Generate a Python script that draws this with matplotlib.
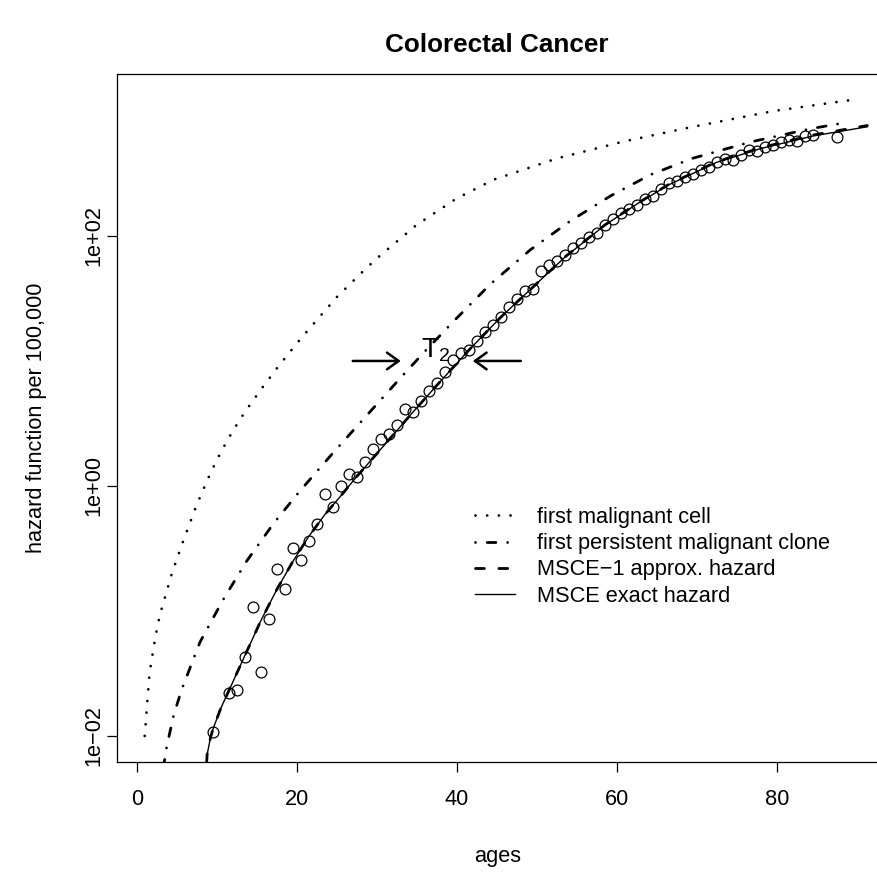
import matplotlib
matplotlib.use("Agg")
import matplotlib.pyplot as plt
from matplotlib.ticker import NullLocator

# observed incidence (circles)
ages_obs = [9.5, 11.5, 12.5, 13.5, 14.5, 15.5, 16.5, 17.5, 18.5, 19.5, 20.5, 21.5,
            22.5, 23.5, 24.5, 25.5, 26.5, 27.5, 28.5, 29.5, 30.5, 31.5, 32.5, 33.5,
            34.5, 35.5, 36.5, 37.5, 38.5, 39.5, 40.5, 41.5, 42.5, 43.5, 44.5, 45.5,
            46.5, 47.5, 48.5, 49.5, 50.5, 51.5, 52.5, 53.5, 54.5, 55.5, 56.5, 57.5,
            58.5, 59.5, 60.5, 61.5, 62.5, 63.5, 64.5, 65.5, 66.5, 67.5, 68.5, 69.5,
            70.5, 71.5, 72.5, 73.5, 74.5, 75.5, 76.5, 77.5, 78.5, 79.5, 80.5, 81.5,
            82.5, 83.5, 84.5, 87.5]
hazard_obs = [0.0108, 0.0222, 0.0233, 0.0432, 0.108, 0.0325, 0.0857, 0.218, 0.151, 0.316,
              0.256, 0.366, 0.497, 0.863, 0.684, 1.00, 1.25, 1.19, 1.56, 1.99, 2.39, 2.61,
              3.10, 4.10, 3.91, 4.82, 5.75, 6.62, 8.17, 10.1, 11.5, 12.2, 14.4, 16.9, 19.5,
              22.3, 26.9, 31.1, 36.1, 37.4, 52.1, 58.2, 63.5, 70.0, 80.2, 88.5, 98.9, 106,
              123, 136, 154, 163, 178, 196, 209, 236, 267, 277, 294, 315, 339, 357, 389,
              416, 406, 442, 488, 475, 512, 538, 565, 586, 579, 631, 647, 624]

# first malignant cell
age_cell = [1.0, 1.6, 2.3, 2.9, 4.4, 5.7, 7.5, 9.2, 10.5, 12.0, 13.5, 15.5, 17.5, 20.0,
            22.0, 25.0, 28.0, 30.0, 35.0, 40.0, 44.6, 52.5, 60.8, 69.2, 79.6, 89.3]
haz_cell = [0.0100, 0.0316, 0.0603, 0.0933, 0.200, 0.347, 0.708, 1.26, 1.86, 2.75, 3.89,
            5.89, 8.71, 13.8, 19.5, 32.4, 50.1, 66.1, 123, 200, 282, 417, 569, 741, 1000, 1225]

# first persistent malignant clone
age_clone = [3.1, 3.75, 4.6, 5.6, 7.9, 10.8, 13.75, 17.1, 20.4, 24.6, 28.75, 32.9, 36.2,
             39.8, 44.2, 49.2, 54.2, 59.2, 64.2, 69.4, 76.7, 84.2, 88.5]
haz_clone = [0.00447, 0.0082, 0.0145, 0.0233, 0.0562, 0.123, 0.251, 0.501, 0.912, 1.86,
             3.67, 7.24, 12.3, 21.4, 41.2, 77.6, 132, 209, 309, 417, 565, 721, 805]

# MSCE exact / MSCE-1 approx
age_msce = [8.55, 8.8, 9.2, 9.5, 10.5, 11.5, 13.5, 15.5, 17.5, 19.5, 21.5, 23.5, 25.5,
            27.5, 31.0, 34.5, 38.0, 41.5, 45.5, 49.5, 53.5, 58.5, 62.5, 66.5, 72.5, 78.0,
            84.5, 91.3]
haz_exact = [0.00398, 0.00708, 0.00955, 0.0112, 0.0166, 0.0229, 0.0437, 0.0832, 0.148,
             0.248, 0.394, 0.589, 0.832, 1.19, 2.14, 3.89, 6.92, 12.2, 22.4, 38.9, 67.6,
             122, 180, 257, 389, 501, 631, 748]
haz_approx = [0.00398, 0.00708, 0.00955, 0.0112, 0.0166, 0.0229, 0.0437, 0.0832, 0.148,
              0.248, 0.394, 0.589, 0.832, 1.19, 2.14, 3.89, 6.92, 12.2, 22.4, 38.9, 67.8,
              122.5, 181, 259, 393, 508, 642, 765]

labels = ["first malignant cell", "first persistent malignant clone",
          "MSCE\u22121 approx. hazard", "MSCE exact hazard"]
xticks = [0, 20, 40, 60, 80]
yticks = [0.01, 1, 100]
ytick_labels = ["1e\u221202", "1e+00", "1e+02"]

plt.rcParams["font.family"] = ["Liberation Sans", "DejaVu Sans"]
plt.rcParams["mathtext.fontset"] = "custom"
plt.rcParams["mathtext.rm"] = "Liberation Sans"
plt.rcParams["lines.scale_dashes"] = False

W, H = 878, 875
fig = plt.figure(figsize=(W / 100, H / 100), dpi=100)
ax = fig.add_axes([116.7 / W, (H - 761.7) / H, (878.5 - 116.7) / W, (761.7 - 74) / H])

ax.plot(ages_obs, hazard_obs, "o", mfc="none", mec="black", ms=7.8, mew=0.9)
ax.plot(age_cell, haz_cell, color="black", lw=2, ls=(0, (0.01, 8.4)),
        dash_capstyle="round", label=labels[0])
ax.plot(age_clone, haz_clone, color="black", lw=2, ls=(0, (0.01, 8.4, 6.3, 8.4)),
        dash_capstyle="round", label=labels[1])
ax.plot(age_msce, haz_approx, color="black", lw=2, ls=(0, (6.4, 10.4)),
        dash_capstyle="round", label=labels[2])
ax.plot(age_msce, haz_exact, color="black", lw=1.0, label=labels[3])

ax.set_yscale("log")
ax.set_xlim(-2.5, 92.7)
ax.set_ylim(0.00622, 1977)
ax.set_xticks(xticks)
ax.set_yticks(yticks)
ax.set_yticklabels(ytick_labels, rotation=90, va="center")
ax.yaxis.set_minor_locator(NullLocator())
ax.tick_params(length=7.2, width=0.9, labelsize=15.7)
ax.tick_params(axis="x", pad=12.5)
ax.tick_params(axis="y", pad=2)
for s in ax.spines.values():
    s.set_linewidth(0.9)
ax.spines["right"].set_visible(False)

ax.set_xlabel("ages", fontsize=15.7, labelpad=26)
ax.set_ylabel("hazard function per 100,000", fontsize=15.7, labelpad=26)
fig.text(497 / W, 1 - 45 / H, "Colorectal Cancer", ha="center", va="center",
         fontsize=18.8, fontweight="bold")

# T2 arrows
arrow_y = 10
ax.annotate("", xy=(33, arrow_y), xytext=(27, arrow_y),
            arrowprops=dict(arrowstyle="->,head_length=0.6,head_width=0.43", lw=1.8,
                            color="black", shrinkA=0, shrinkB=0, mutation_scale=14))
ax.annotate("", xy=(42, arrow_y), xytext=(48, arrow_y),
            arrowprops=dict(arrowstyle="->,head_length=0.6,head_width=0.43", lw=1.8,
                            color="black", shrinkA=0, shrinkB=0, mutation_scale=14))
ax.text(37.3, 10.8, r"$\mathrm{T}_2$", fontsize=20, ha="center", va="baseline")

ax.legend(loc="upper left", bbox_to_anchor=(475 / W, (H - 507) / H),
          bbox_transform=fig.transFigure, frameon=False, fontsize=15.7,
          handlelength=1.83, handletextpad=1.0, labelspacing=0.24,
          borderpad=0, borderaxespad=0)

fig.savefig("out.png", dpi=100)
